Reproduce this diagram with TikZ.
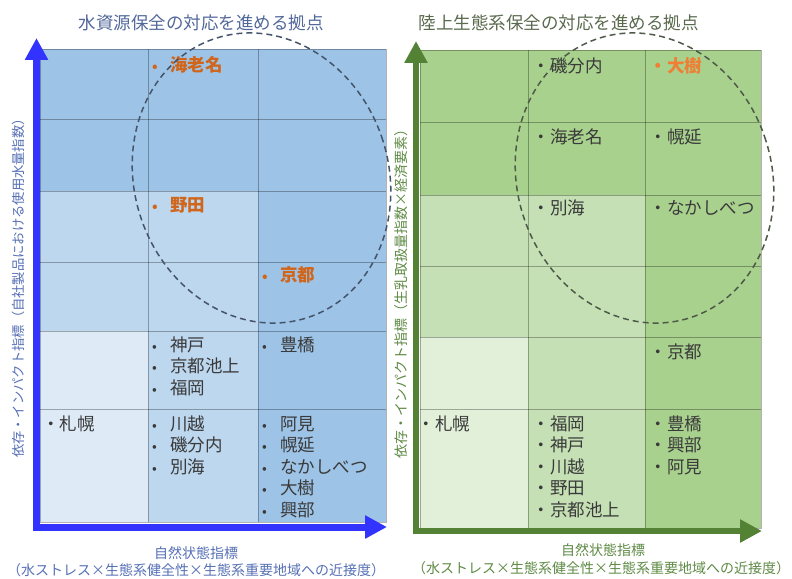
\documentclass[tikz,border=0pt]{standalone}
\usepackage{fontspec}
\setmainfont{Noto Sans CJK JP}
\usetikzlibrary{arrows.meta}
\definecolor{bm}{HTML}{9DC3E6}
\definecolor{bl}{HTML}{BDD7EE}
\definecolor{bll}{HTML}{DEEBF7}
\definecolor{gm}{HTML}{A9D18E}
\definecolor{gl}{HTML}{C5E0B4}
\definecolor{gll}{HTML}{E2F0D9}
\definecolor{baxis}{HTML}{3333FF}
\definecolor{gaxis}{HTML}{548235}
\definecolor{btitle}{HTML}{52689A}
\definecolor{gtitle}{HTML}{5A6A4E}
\definecolor{blabel}{HTML}{5670B5}
\definecolor{glabel}{HTML}{5F8A45}
\definecolor{txt}{HTML}{3A3A3A}
\definecolor{orgL}{HTML}{D0661C}
\definecolor{orgR}{HTML}{EE7F35}
\definecolor{bdash}{HTML}{44546A}
\definecolor{gdash}{HTML}{4E5A48}
\newcommand\bul{{\fontsize{14}{14}\selectfont •}}
\newcommand\Litems[4]{\foreach \t [count=\i] in {#4} \node[item] (#1\i) at (#2, {#3+21.5*(\i-1)}) {\makebox[18pt][l]{\bul}\t};}
\newcommand\Ritems[4]{\foreach \t [count=\i] in {#4} \node[item] (#1\i) at (#2, {#3+21.5*(\i-1)}) {・\t};}
\begin{document}
\begin{tikzpicture}[x=1pt,y=-1pt,
  item/.style={anchor=west, inner sep=0, text height=0.76em, text depth=0.16em, text=txt, font=\fontsize{17.5}{20}\selectfont},
  hot/.style={item, font=\fontsize{17.5}{20}\selectfont\bfseries},
  gridline/.style={draw=black, draw opacity=0.3, line width=0.8pt},
  title/.style={inner sep=0, font=\fontsize{17.5}{20}\selectfont},
  axlabel/.style={inner sep=0, font=\fontsize{14}{16}\selectfont},
  axisarrow/.style={line width=7pt, line join=miter, {Triangle[width=22pt,length=22pt]}-{Triangle[width=22pt,length=22pt]}},
  oval/.style={dashed, dash pattern=on 6pt off 4pt, line width=1.5pt},
]
\useasboundingbox (0,0) rectangle (792,578);
% ---------- left panel fills
\fill[bm] (40,49) rectangle (386,522);
\fill[bl] (40,191) rectangle (258,331);
\fill[bll] (40,331) rectangle (148,522);
\fill[bl] (148,331) rectangle (258,522);
\draw[gridline] (40,49) rectangle (386,522);
\foreach \x in {148,258} \draw[gridline] (\x,49) -- (\x,522);
\foreach \y in {119,191,262,331,409} \draw[gridline] (40,\y) -- (386,\y);
% ---------- right panel fills
\fill[gm] (420,50) rectangle (761,528);
\fill[gl] (420,195) rectangle (645,337);
\fill[gll] (420,337) rectangle (528,528);
\fill[gl] (528,337) rectangle (645,528);
\draw[gridline] (420,50) rectangle (761,528);
\foreach \x in {528,645} \draw[gridline] (\x,50) -- (\x,528);
\foreach \y in {122,195,266,337,409} \draw[gridline] (420,\y) -- (761,\y);
% ---------- axes
\coordinate (Btop) at (36.5,38);
\coordinate (Bcorner) at (36.5,527);
\coordinate (Bright) at (387,527);
\draw[axisarrow, baxis] (Btop) -- (Bcorner) -- (Bright);
\coordinate (Gtop) at (416,41);
\coordinate (Gcorner) at (416,531);
\coordinate (Gright) at (762,531);
\draw[axisarrow, gaxis, line width=6.5pt] (Gtop) -- (Gcorner) -- (Gright);
% ---------- titles
\node[title, text=btitle] (tL) at (201,23) {水資源保全の対応を進める拠点};
\node[title, text=gtitle] (tR) at (558.5,23) {陸上生態系保全の対応を進める拠点};
% ---------- axis labels
\node[inner sep=0, rotate=90, text=blabel, font=\fontsize{13.3}{15}\selectfont] (yL) at (18,285) {依存・インパクト指標（自社製品における使用水量指数）};
\node[inner sep=0, rotate=90, text=glabel, font=\fontsize{14}{16}\selectfont] (yR) at (401,290) {依存・インパクト指標（生乳取扱量指数×経済要素）};
\node[axlabel, text=blabel] (xL1) at (196,553) {自然状態指標};
\node[axlabel, text=blabel] (xL2) at (196,570) {（水ストレス×生態系健全性×生態系重要地域への近接度）};
\node[axlabel, text=glabel] (xR1) at (603,550) {自然状態指標};
\node[axlabel, text=glabel] (xR2) at (601,568) {（水ストレス×生態系健全性×生態系重要地域への近接度）};
% ---------- left items
\node[hot, text=orgL] (Lh1) at (152,68) {\makebox[18pt][l]{\bul}海老名};
\node[hot, text=orgL] (Lh2) at (152,208) {\makebox[18pt][l]{\bul}野田};
\node[hot, text=orgL] (Lh3) at (262,278) {\makebox[18pt][l]{\bul}京都};
\Litems{La}{152}{348}{神戸,京都池上,福岡}
\Litems{Lb}{262}{348}{豊橋}
\Litems{Lc}{152}{427}{川越,磯分内,別海}
\Litems{Ld}{262}{427}{阿見,幌延,なかしべつ,大樹,興部}
\node[item] (Le1) at (42,427) {・札幌};
% ---------- right items
\Ritems{Ra}{532.5}{70}{磯分内}
\node[hot, text=orgR] (Rh1) at (649.5,70) {・大樹};
\Ritems{Rb}{532.5}{140}{海老名}
\Ritems{Rc}{649.5}{140}{幌延}
\Ritems{Rd}{532.5}{211}{別海}
\Ritems{Re}{649.5}{211}{なかしべつ}
\Ritems{Rf}{649.5}{355}{京都}
\Ritems{Rg}{417.5}{427}{札幌}
\Ritems{Rh}{532.5}{427}{福岡,神戸,川越,野田,京都池上}
\Ritems{Ri}{649.5}{427}{豊橋,興部,阿見}
% ---------- dashed ovals
\draw[oval, bdash, rotate around={19:(261.5,178)}] (261.5,178) ellipse [x radius=127, y radius=147];
\draw[oval, gdash, rotate around={19:(644.5,178)}] (644.5,178) ellipse [x radius=127, y radius=147];
\end{tikzpicture}
\end{document}
